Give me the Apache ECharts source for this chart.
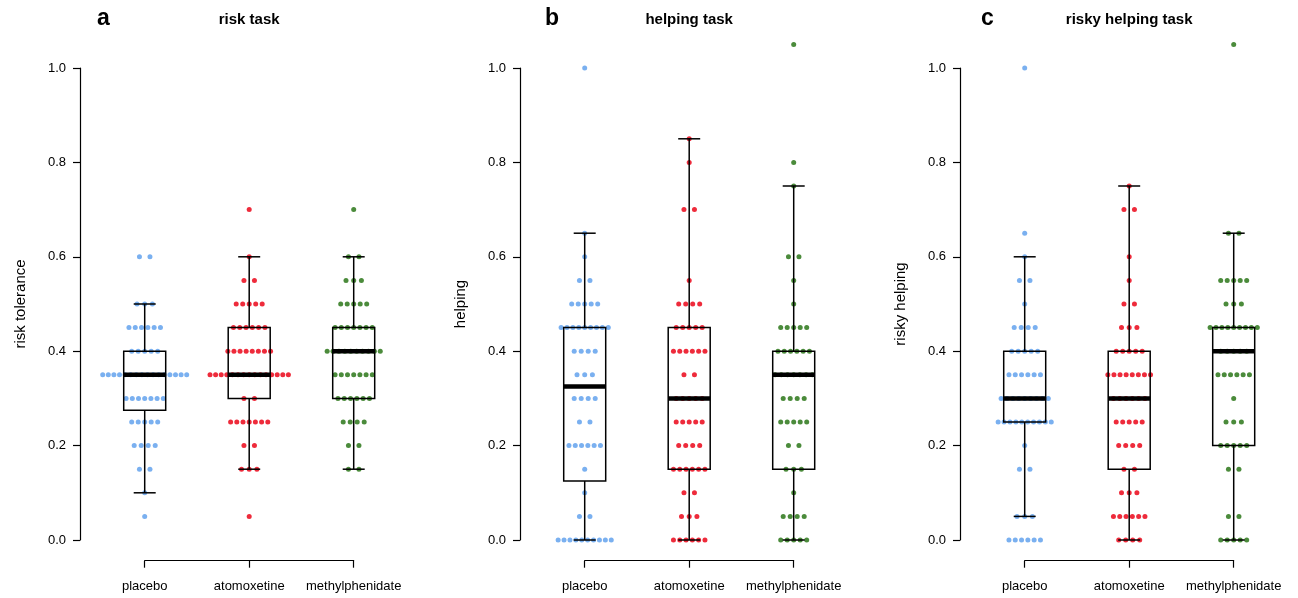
<!DOCTYPE html>
<html>
<head>
<meta charset="utf-8">
<script src="https://cdn.jsdelivr.net/npm/echarts@6/dist/echarts.min.js"></script>
<style>html,body{margin:0;padding:0;background:#fff}#c{width:1298px;height:598px}</style>
</head>
<body>
<div id="c"></div>
<script>
// ---------- DATA ----------
const categories = ['placebo', 'atomoxetine', 'methylphenidate'];
const panelLetters = ['a', 'b', 'c'];
const panelTitles = ['risk task', 'helping task', 'risky helping task'];
const yNames = ['risk tolerance', 'helping', 'risky helping'];
const yTicks = [0, 0.2, 0.4, 0.6, 0.8, 1.0];
// response levels (dot rows)
const levels = [0, 0.05, 0.1, 0.15, 0.2, 0.25, 0.3, 0.35, 0.4, 0.45, 0.5, 0.55, 0.6, 0.65, 0.7, 0.75, 0.8, 0.85, 0.9, 0.95, 1.0, 1.05];
// number of participants at each level
const riskPlacebo   = [0,1,1,2,4,5,7,16,5,6,3,0,2,0,0,0,0,0,0,0,0,0];
const riskAtomox    = [0,1,0,3,2,7,2,15,8,6,5,2,1,0,1,0,0,0,0,0,0,0];
const riskMethyl    = [0,0,0,2,2,4,6,7,10,7,5,3,2,0,1,0,0,0,0,0,0,0];
const helpPlacebo   = [10,2,1,1,6,2,4,3,4,9,5,2,1,1,0,0,0,0,0,0,1,0];
const helpAtomox    = [6,3,2,6,4,5,5,2,6,5,4,1,0,0,2,0,1,1,0,0,0,0];
const helpMethyl    = [5,4,1,3,2,5,4,7,6,5,1,1,2,0,0,1,1,0,0,0,0,1];
const riskyPlacebo  = [6,3,0,2,1,10,9,6,5,4,1,2,1,1,0,0,0,0,0,0,1,0];
const riskyAtomox   = [4,6,3,2,4,5,6,8,5,3,2,1,1,0,2,1,0,0,0,0,0,0];
const riskyMethyl   = [5,2,0,2,5,3,1,6,5,9,3,5,0,2,0,0,0,0,0,0,0,1];
// boxplot stats: [lower whisker, Q1, median, Q3, upper whisker]
const riskBoxes  = [[0.10,0.275,0.35,0.40,0.50],[0.15,0.30,0.35,0.45,0.60],[0.15,0.30,0.40,0.45,0.60]];
const helpBoxes  = [[0.00,0.125,0.325,0.45,0.65],[0.00,0.15,0.30,0.45,0.85],[0.00,0.15,0.35,0.40,0.75]];
const riskyBoxes = [[0.05,0.25,0.30,0.40,0.60],[0.00,0.15,0.30,0.40,0.75],[0.00,0.20,0.40,0.45,0.65]];

const panelCounts = [[riskPlacebo, riskAtomox, riskMethyl],[helpPlacebo, helpAtomox, helpMethyl],[riskyPlacebo, riskyAtomox, riskyMethyl]];
const panelBoxes = [riskBoxes, helpBoxes, riskyBoxes];

// ---------- STYLE / LAYOUT ----------
const colors = ['#7ab0f0', '#ee2b3b', '#4b8b3b'];
const FONT = 'Liberation Sans, Arial, Helvetica, sans-serif';
const panelStep = 440;
const gridLeft0 = 144.7, gridW = 209, gridTop = 68, gridH = 472;
const pxPerUnit = gridW / 2;
// horizontal dot spacing (px) in a swarm row, by row size
const rowSpacing = [0,0,10.5,7.7,7.0,6.5,6.3,6.2,6.1,5.9,5.9,5.8,5.7,5.7,5.6,5.6,5.6,5.6];

function swarm(counts, gi) {
  const pts = [];
  counts.forEach((n, li) => {
    if (!n) return;
    const s = (rowSpacing[n] || 5.6) / pxPerUnit;
    for (let i = 0; i < n; i++) {
      pts.push([gi + (i - (n - 1) / 2) * s, levels[li]]);
    }
  });
  return pts;
}

function renderBox(params, api) {
  const x = api.value(0);
  const lo = api.coord([x, api.value(1)]);
  const q1 = api.coord([x, api.value(2)]);
  const md = api.coord([x, api.value(3)]);
  const q3 = api.coord([x, api.value(4)]);
  const hi = api.coord([x, api.value(5)]);
  const cx = lo[0], hw = 21, cw = 11;
  const st = { stroke: '#000', lineWidth: 1.5 };
  return {
    type: 'group',
    children: [
      { type: 'line', shape: { x1: cx, y1: q3[1], x2: cx, y2: hi[1] }, style: st },
      { type: 'line', shape: { x1: cx, y1: q1[1], x2: cx, y2: lo[1] }, style: st },
      { type: 'line', shape: { x1: cx - cw, y1: hi[1], x2: cx + cw, y2: hi[1] }, style: st },
      { type: 'line', shape: { x1: cx - cw, y1: lo[1], x2: cx + cw, y2: lo[1] }, style: st },
      { type: 'rect', shape: { x: cx - hw, y: q3[1], width: 2 * hw, height: q1[1] - q3[1] }, style: { stroke: '#000', lineWidth: 1.5, fill: 'none' } },
      { type: 'line', shape: { x1: cx - hw, y1: md[1], x2: cx + hw, y2: md[1] }, style: { stroke: '#000', lineWidth: 4.5 } }
    ]
  };
}

const grids = [], xAxes = [], yAxes = [], series = [], graphics = [];
for (let p = 0; p < 3; p++) {
  const left = gridLeft0 + p * panelStep;
  grids.push({ left: left, top: gridTop, width: gridW, height: gridH, containLabel: false });
  xAxes.push({
    type: 'value', gridIndex: p, min: 0, max: 2, interval: 1, position: 'bottom', offset: 20.7,
    axisLine: { show: true, onZero: false, lineStyle: { color: '#000', width: 1.2 } },
    axisTick: { show: true, inside: false, length: 7, lineStyle: { color: '#000', width: 1.2 } },
    axisLabel: { show: true, margin: 19, color: '#000', fontSize: 13, fontFamily: FONT, formatter: v => categories[Math.round(v)] },
    splitLine: { show: false }
  });
  yAxes.push({
    type: 'value', gridIndex: p, min: 0, max: 1, interval: 0.2, position: 'left', offset: left - (80 + p * panelStep),
    name: yNames[p], nameLocation: 'middle', nameGap: 52,
    nameTextStyle: { color: '#000', fontSize: 15, fontFamily: FONT },
    axisLine: { show: true, onZero: false, lineStyle: { color: '#000', width: 1.2 } },
    axisTick: { show: true, inside: false, length: 7, lineStyle: { color: '#000', width: 1.2 } },
    axisLabel: { show: true, margin: 14, color: '#000', fontSize: 13, fontFamily: FONT, formatter: v => v.toFixed(1) },
    splitLine: { show: false }
  });
  for (let g = 0; g < 3; g++) {
    series.push({
      type: 'scatter', xAxisIndex: p, yAxisIndex: p, data: swarm(panelCounts[p][g], g),
      symbol: 'circle', symbolSize: 5, clip: false, silent: true, z: 2,
      itemStyle: { color: colors[g], opacity: 1 }
    });
  }
  series.push({
    type: 'custom', xAxisIndex: p, yAxisIndex: p, z: 3, silent: true, clip: false,
    data: panelBoxes[p].map((b, g) => [g].concat(b)),
    encode: { x: 0, y: [1, 2, 3, 4, 5] },
    renderItem: renderBox
  });
  graphics.push({
    type: 'text', x: [97, 545, 981][p], y: 19,
    style: { text: panelLetters[p], font: 'bold 23px ' + FONT, fill: '#000', verticalAlign: 'middle', align: 'left' }
  });
  graphics.push({
    type: 'text', x: left + pxPerUnit, y: 20,
    style: { text: panelTitles[p], font: 'bold 15px ' + FONT, fill: '#000', verticalAlign: 'middle', align: 'center' }
  });
}

const chart = echarts.init(document.getElementById('c'), null, { renderer: 'canvas' });
chart.setOption({
  backgroundColor: '#fff',
  animation: false,
  grid: grids, xAxis: xAxes, yAxis: yAxes, series: series, graphic: graphics
});
</script>
</body>
</html>
